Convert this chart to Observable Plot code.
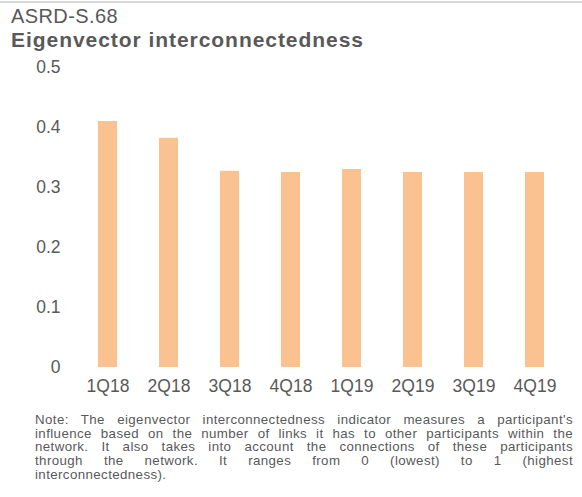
<!DOCTYPE html>
<html>
<head>
<meta charset="utf-8">
<script src="https://cdn.jsdelivr.net/npm/d3@7"></script>
<script src="https://cdn.jsdelivr.net/npm/@observablehq/plot@0.6"></script>
<style>
  body { margin: 0; background: #fff; }
  #wrap { position: relative; width: 582px; height: 497px; overflow: hidden; font-family: "Liberation Sans", Arial, sans-serif; color: #595959; }
  #topline { position: absolute; left: 0; top: 1px; width: 582px; height: 2px; background: #d9d9d9; }
  #code { position: absolute; left: 11px; top: 5.7px; font-size: 20px; line-height: 20px; letter-spacing: 0.4px; white-space: nowrap; }
  #title { position: absolute; left: 11px; top: 29px; font-size: 21px; line-height: 21px; font-weight: bold; letter-spacing: 0.95px; white-space: nowrap; }
  #chart { position: absolute; left: 0; top: 55px; }
  #note { position: absolute; left: 35px; top: 413px; width: 538px; font-size: 13.3px; line-height: 13.7px; letter-spacing: 0.4px; }
  #note div { text-align: justify; text-align-last: justify; white-space: nowrap; }
  #note div.last { text-align-last: left; }
</style>
</head>
<body>
<div id="wrap">
  <div id="topline"></div>
  <div id="code">ASRD-S.68</div>
  <div id="title">Eigenvector interconnectedness</div>
  <div id="chart"></div>
  <div id="note"></div>
</div>
<script>
const quarters = ["1Q18", "2Q18", "3Q18", "4Q18", "1Q19", "2Q19", "3Q19", "4Q19"];
const values = [0.410, 0.382, 0.327, 0.325, 0.330, 0.325, 0.325, 0.325];
const yTicks = [0, 0.1, 0.2, 0.3, 0.4, 0.5];
const noteLines = [
  "Note: The eigenvector interconnectedness indicator measures a participant's",
  "influence based on the number of links it has to other participants within the",
  "network. It also takes into account the connections of these participants",
  "through the network. It ranges from 0 (lowest) to 1 (highest",
  "interconnectedness)."
];

const data = quarters.map((q, i) => ({q, v: values[i]}));

const chart = Plot.plot({
  width: 582,
  height: 345,
  marginTop: 12,
  marginBottom: 33,
  marginLeft: 76,
  marginRight: 17,
  style: {fontFamily: "'Liberation Sans', Arial, sans-serif", fontSize: "17.5px", color: "#595959", background: "transparent"},
  x: {domain: quarters, paddingInner: 0.69, paddingOuter: 0.345, label: null, tickSize: 0, tickPadding: 12},
  y: {domain: [0, 0.5], ticks: yTicks, tickFormat: d => d === 0 ? "0" : d3.format(".1f")(d), label: null, tickSize: 0, tickPadding: 16},
  marks: [
    Plot.barY(data, {x: "q", y: "v", fill: "#f9c290"})
  ]
});
document.getElementById("chart").appendChild(chart);

const note = document.getElementById("note");
noteLines.forEach((t, i) => {
  const d = document.createElement("div");
  d.textContent = t;
  if (i === noteLines.length - 1) d.className = "last";
  note.appendChild(d);
});
</script>
</body>
</html>
